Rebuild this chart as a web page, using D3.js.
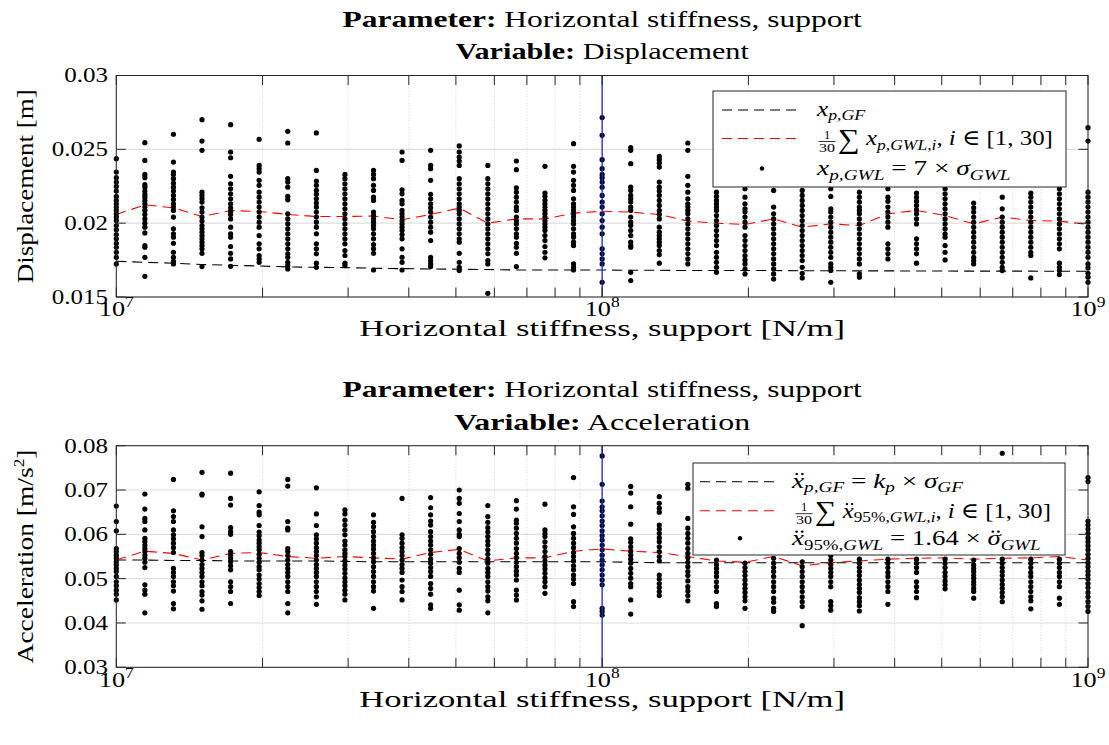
<!DOCTYPE html>
<html>
<head>
<meta charset="utf-8">
<script src="https://cdn.jsdelivr.net/npm/d3@7"></script>
<style>
  html, body { margin: 0; padding: 0; background: #fff; }
  svg { display: block; }
</style>
</head>
<body>
<svg id="fig" width="1109" height="745"></svg>
<script>
// ---------------------------------------------------------------------------
// Parameter sweep: horizontal stiffness of the support [N/m]
// ---------------------------------------------------------------------------
const stiffness = [
  1.000e7, 1.145e7, 1.311e7, 1.501e7, 1.719e7, 1.968e7, 2.254e7, 2.581e7, 2.955e7,
  3.384e7, 3.874e7, 4.436e7, 5.080e7, 5.817e7, 6.660e7, 7.626e7, 8.732e7,
  1.000e8, 1.145e8, 1.311e8, 1.501e8, 1.719e8, 1.968e8, 2.254e8, 2.581e8, 2.955e8,
  3.384e8, 3.874e8, 4.436e8, 5.080e8, 5.817e8, 6.660e8, 7.626e8, 8.732e8, 1.000e9
];
const referenceStiffness = 1e8;

// Displacement x_{p,GWL} for each of the 30 simulations at each stiffness [m]
const dispSamples = [
  [0.02437,0.02346,0.02308,0.02278,0.02249,0.02217,0.02181,0.02154,0.02131,0.02109,0.02086,0.02063,0.02041,0.02018,0.01984,0.01955,0.01923,0.01894,0.01864,0.01837,0.01803,0.01769,0.01724],
  [0.02545,0.02425,0.02330,0.02308,0.02262,0.02244,0.02217,0.02195,0.02176,0.02154,0.02131,0.02109,0.02086,0.02059,0.02029,0.02000,0.01973,0.01934,0.01848,0.01837,0.01769,0.01640],
  [0.02602,0.02414,0.02346,0.02330,0.02301,0.02271,0.02244,0.02217,0.02188,0.02161,0.02131,0.02109,0.02086,0.02041,0.01962,0.01928,0.01905,0.01864,0.01803,0.01769,0.01742,0.01724],
  [0.02701,0.02556,0.02493,0.02210,0.02188,0.02165,0.02143,0.02104,0.02075,0.02041,0.02014,0.01984,0.01962,0.01939,0.01916,0.01894,0.01871,0.01848,0.01826,0.01796,0.01706],
  [0.02667,0.02482,0.02443,0.02317,0.02267,0.02233,0.02199,0.02165,0.02131,0.02104,0.02081,0.02059,0.02029,0.01973,0.01928,0.01905,0.01842,0.01796,0.01758,0.01708],
  [0.02568,0.02391,0.02369,0.02346,0.02290,0.02256,0.02210,0.02176,0.02143,0.02109,0.02075,0.02041,0.02007,0.01973,0.01916,0.01860,0.01826,0.01781,0.01758,0.01735],
  [0.02622,0.02543,0.02301,0.02278,0.02244,0.02181,0.02158,0.02063,0.02029,0.01995,0.01962,0.01928,0.01894,0.01860,0.01826,0.01792,0.01769,0.01735,0.01713,0.01690],
  [0.02611,0.02357,0.02285,0.02256,0.02222,0.02195,0.02165,0.02136,0.02109,0.02075,0.02041,0.02007,0.01973,0.01928,0.01860,0.01826,0.01792,0.01729,0.01701],
  [0.02330,0.02301,0.02267,0.02233,0.02199,0.02165,0.02131,0.02097,0.02063,0.02029,0.01995,0.01962,0.01928,0.01894,0.01860,0.01815,0.01781,0.01729,0.01713],
  [0.02357,0.02330,0.02301,0.02256,0.02222,0.02176,0.02154,0.02075,0.02052,0.02029,0.02007,0.01984,0.01962,0.01928,0.01894,0.01855,0.01826,0.01796,0.01683],
  [0.02482,0.02425,0.02226,0.02199,0.02154,0.02131,0.02086,0.02063,0.02041,0.02018,0.01995,0.01973,0.01950,0.01923,0.01894,0.01826,0.01769,0.01735,0.01683],
  [0.02493,0.02391,0.02369,0.02290,0.02195,0.02165,0.02131,0.02104,0.02075,0.02041,0.02007,0.01973,0.01939,0.01882,0.01769,0.01747,0.01724,0.01706],
  [0.02523,0.02482,0.02448,0.02421,0.02391,0.02301,0.02267,0.02233,0.02199,0.02165,0.02131,0.02109,0.02086,0.02063,0.02029,0.01995,0.01962,0.01928,0.01894,0.01871,0.01796,0.01735,0.01701,0.01679],
  [0.02391,0.02301,0.02267,0.02233,0.02199,0.02165,0.02131,0.02097,0.02063,0.02029,0.01995,0.01962,0.01928,0.01894,0.01860,0.01826,0.01792,0.01747,0.01724,0.01525],
  [0.02421,0.02362,0.02240,0.02210,0.02176,0.02143,0.02109,0.02086,0.02041,0.02018,0.01995,0.01962,0.01928,0.01905,0.01864,0.01837,0.01796,0.01706],
  [0.02385,0.02204,0.02181,0.02154,0.02131,0.02109,0.02086,0.02063,0.02041,0.02018,0.01995,0.01973,0.01950,0.01916,0.01882,0.01842,0.01803,0.01765],
  [0.02538,0.02385,0.02346,0.02290,0.02256,0.02222,0.02165,0.02131,0.02109,0.02086,0.02063,0.02041,0.02018,0.01995,0.01962,0.01928,0.01905,0.01871,0.01848,0.01724,0.01701,0.01683],
  [0.02715,0.02595,0.02430,0.02369,0.02330,0.02308,0.02278,0.02244,0.02188,0.02143,0.02109,0.02063,0.02018,0.01973,0.01928,0.01826,0.01792,0.01758,0.01724,0.01600],
  [0.02511,0.02493,0.02403,0.02244,0.02222,0.02188,0.02165,0.02143,0.02109,0.02086,0.02041,0.02007,0.01984,0.01950,0.01916,0.01871,0.01848,0.01837,0.01667,0.01611],
  [0.02452,0.02430,0.02407,0.02380,0.02278,0.02244,0.02217,0.02188,0.02154,0.02120,0.02086,0.02059,0.02029,0.01973,0.01939,0.01916,0.01894,0.01871,0.01848,0.01815,0.01787,0.01729],
  [0.02543,0.02493,0.02317,0.02256,0.02210,0.02165,0.02131,0.02109,0.02086,0.02063,0.02029,0.01995,0.01962,0.01928,0.01894,0.01860,0.01826,0.01792,0.01758,0.01724],
  [0.02210,0.02181,0.02154,0.02131,0.02109,0.02086,0.02052,0.02018,0.01984,0.01950,0.01916,0.01882,0.01848,0.01803,0.01769,0.01735,0.01701,0.01667],
  [0.02233,0.02176,0.02131,0.02097,0.02075,0.02041,0.02007,0.01973,0.01916,0.01882,0.01848,0.01815,0.01781,0.01751,0.01724,0.01690,0.01656],
  [0.02222,0.02109,0.02063,0.02029,0.01995,0.01962,0.01928,0.01894,0.01860,0.01826,0.01792,0.01758,0.01724,0.01690,0.01656,0.01622],
  [0.02222,0.02188,0.02154,0.02120,0.02086,0.02052,0.02018,0.01984,0.01950,0.01916,0.01882,0.01848,0.01815,0.01781,0.01747,0.01701,0.01660,0.01629],
  [0.02233,0.02181,0.02097,0.02075,0.02041,0.02007,0.01973,0.01939,0.01905,0.01871,0.01837,0.01803,0.01769,0.01724,0.01701,0.01679,0.01600],
  [0.02210,0.02176,0.02143,0.02109,0.02086,0.02063,0.02029,0.01995,0.01962,0.01928,0.01894,0.01860,0.01826,0.01792,0.01758,0.01724,0.01656,0.01634],
  [0.02233,0.02176,0.02149,0.02109,0.02075,0.02041,0.02007,0.01973,0.01860,0.01826,0.01792,0.01758],
  [0.02204,0.02176,0.02149,0.02120,0.02090,0.02063,0.02029,0.01995,0.01894,0.01860,0.01826,0.01792,0.01729],
  [0.02233,0.02199,0.02165,0.02131,0.02097,0.02063,0.02029,0.01995,0.01962,0.01928,0.01905,0.01848,0.01803,0.01751],
  [0.02136,0.02104,0.02075,0.02041,0.02007,0.01973,0.01939,0.01905,0.01871,0.01837,0.01803,0.01769,0.01747,0.01724],
  [0.02176,0.02097,0.02041,0.02007,0.01973,0.01939,0.01905,0.01871,0.01837,0.01803,0.01769,0.01735,0.01701,0.01679],
  [0.02204,0.02176,0.02143,0.02109,0.02075,0.02041,0.02007,0.01973,0.01939,0.01905,0.01871,0.01837,0.01803,0.01781,0.01629],
  [0.02233,0.02199,0.02165,0.02131,0.02097,0.02063,0.02029,0.01995,0.01962,0.01928,0.01894,0.01860,0.01826,0.01729,0.01701,0.01679,0.01652],
  [0.02647,0.02556,0.02210,0.02176,0.02143,0.02109,0.02075,0.02041,0.02007,0.01973,0.01939,0.01905,0.01871,0.01837,0.01803,0.01769,0.01724,0.01697,0.01660,0.01634,0.01600]
];
// Mean of the 30 simulations, (1/30) sum x_{p,GWL,i} [m]
const dispMean = [
  0.02059,0.02124,0.02104,0.02045,0.02086,0.02079,0.02059,0.02045,0.02045,0.02048,0.02023,0.02059,
  0.02102,0.02000,0.02029,0.02029,0.02068,0.02081,0.02075,0.02059,0.02014,0.02000,0.01991,0.02029,
  0.01973,0.01995,0.01984,0.02063,0.02086,0.02052,0.01995,0.02041,0.02018,0.02014,0.01991
];
// Gaussian-field reference x_{p,GF} [m]
const dispGF = [
  0.01742,0.01735,0.01729,0.01720,0.01715,0.01710,0.01704,0.01701,0.01699,0.01695,0.01692,0.01690,
  0.01688,0.01686,0.01683,0.01683,0.01683,0.01683,0.01681,0.01681,0.01679,0.01679,0.01679,0.01679,
  0.01678,0.01678,0.01677,0.01677,0.01676,0.01676,0.01675,0.01675,0.01675,0.01674,0.01674
];

// Acceleration, 95 % peak value per simulation [m/s^2]
const accSamples = [
  [0.0664,0.0629,0.0608,0.0568,0.0561,0.0553,0.0546,0.0538,0.0531,0.0523,0.0516,0.0505,0.0493,0.0484,0.0474,0.0465,0.0452],
  [0.0691,0.0657,0.0636,0.0629,0.0610,0.0591,0.0584,0.0576,0.0568,0.0561,0.0553,0.0546,0.0537,0.0525,0.0486,0.0474,0.0465,0.0423],
  [0.0724,0.0653,0.0640,0.0629,0.0610,0.0599,0.0590,0.0580,0.0570,0.0559,0.0523,0.0514,0.0505,0.0493,0.0484,0.0472,0.0444,0.0432],
  [0.0740,0.0691,0.0689,0.0617,0.0595,0.0559,0.0552,0.0542,0.0532,0.0523,0.0514,0.0505,0.0493,0.0484,0.0471,0.0463,0.0450,0.0431],
  [0.0738,0.0681,0.0666,0.0615,0.0606,0.0600,0.0561,0.0553,0.0546,0.0538,0.0529,0.0520,0.0493,0.0482,0.0471,0.0444],
  [0.0696,0.0665,0.0650,0.0644,0.0620,0.0605,0.0597,0.0587,0.0580,0.0572,0.0565,0.0555,0.0546,0.0537,0.0527,0.0520,0.0508,0.0499,0.0489,0.0480,0.0471,0.0462],
  [0.0724,0.0709,0.0629,0.0614,0.0610,0.0568,0.0561,0.0552,0.0542,0.0532,0.0523,0.0514,0.0505,0.0493,0.0482,0.0471,0.0444,0.0423],
  [0.0705,0.0646,0.0620,0.0599,0.0590,0.0580,0.0570,0.0561,0.0552,0.0542,0.0532,0.0523,0.0514,0.0505,0.0493,0.0482,0.0471,0.0459,0.0442],
  [0.0655,0.0646,0.0632,0.0621,0.0610,0.0599,0.0585,0.0576,0.0565,0.0557,0.0550,0.0540,0.0531,0.0522,0.0512,0.0502,0.0493,0.0484,0.0474,0.0465,0.0452],
  [0.0644,0.0627,0.0617,0.0606,0.0595,0.0585,0.0576,0.0567,0.0557,0.0547,0.0538,0.0527,0.0516,0.0505,0.0493,0.0482,0.0472,0.0433],
  [0.0681,0.0599,0.0591,0.0580,0.0570,0.0561,0.0552,0.0542,0.0532,0.0523,0.0514,0.0497,0.0482,0.0471,0.0452],
  [0.0683,0.0660,0.0644,0.0630,0.0621,0.0606,0.0595,0.0585,0.0576,0.0565,0.0555,0.0544,0.0535,0.0525,0.0516,0.0505,0.0489,0.0478,0.0465,0.0441,0.0433],
  [0.0700,0.0681,0.0670,0.0647,0.0629,0.0610,0.0600,0.0595,0.0568,0.0557,0.0547,0.0537,0.0523,0.0514,0.0474,0.0441,0.0429],
  [0.0665,0.0640,0.0627,0.0615,0.0605,0.0595,0.0585,0.0576,0.0565,0.0555,0.0544,0.0535,0.0523,0.0514,0.0505,0.0493,0.0482,0.0472,0.0459,0.0450,0.0423],
  [0.0676,0.0657,0.0632,0.0625,0.0614,0.0602,0.0591,0.0580,0.0568,0.0557,0.0547,0.0537,0.0527,0.0517,0.0508,0.0497,0.0474,0.0463,0.0452],
  [0.0668,0.0610,0.0602,0.0595,0.0583,0.0572,0.0561,0.0550,0.0540,0.0531,0.0522,0.0512,0.0502,0.0493,0.0482,0.0467],
  [0.0728,0.0662,0.0645,0.0617,0.0602,0.0591,0.0580,0.0570,0.0559,0.0550,0.0540,0.0529,0.0520,0.0508,0.0499,0.0489,0.0448,0.0437],
  [0.0777,0.0713,0.0675,0.0662,0.0653,0.0642,0.0630,0.0620,0.0608,0.0597,0.0587,0.0576,0.0565,0.0553,0.0542,0.0531,0.0520,0.0508,0.0497,0.0486,0.0433,0.0426,0.0418],
  [0.0708,0.0693,0.0662,0.0623,0.0590,0.0582,0.0572,0.0562,0.0553,0.0544,0.0535,0.0523,0.0512,0.0501,0.0489,0.0482,0.0452,0.0420],
  [0.0685,0.0670,0.0659,0.0650,0.0621,0.0612,0.0602,0.0592,0.0583,0.0572,0.0561,0.0550,0.0540,0.0508,0.0499,0.0489,0.0480,0.0471,0.0462],
  [0.0713,0.0704,0.0636,0.0614,0.0602,0.0591,0.0580,0.0568,0.0557,0.0547,0.0537,0.0527,0.0516,0.0507,0.0495,0.0482,0.0472,0.0462,0.0450],
  [0.0542,0.0532,0.0523,0.0514,0.0505,0.0493,0.0482,0.0471,0.0444,0.0437],
  [0.0535,0.0525,0.0516,0.0507,0.0497,0.0487,0.0478,0.0469,0.0459,0.0450,0.0433],
  [0.0546,0.0535,0.0525,0.0516,0.0505,0.0493,0.0482,0.0471,0.0456,0.0447,0.0433,0.0426],
  [0.0538,0.0527,0.0516,0.0505,0.0493,0.0482,0.0471,0.0459,0.0448,0.0437,0.0394],
  [0.0552,0.0542,0.0532,0.0523,0.0514,0.0505,0.0493,0.0482,0.0448,0.0439,0.0429],
  [0.0544,0.0535,0.0525,0.0516,0.0507,0.0497,0.0487,0.0478,0.0469,0.0457,0.0448,0.0439,0.0427],
  [0.0544,0.0535,0.0525,0.0514,0.0505,0.0493,0.0482,0.0471,0.0442],
  [0.0544,0.0535,0.0525,0.0514,0.0493,0.0482,0.0471,0.0457],
  [0.0544,0.0535,0.0525,0.0514,0.0505,0.0495,0.0486,0.0477],
  [0.0542,0.0531,0.0523,0.0516,0.0508,0.0501,0.0493,0.0486,0.0478,0.0471,0.0456],
  [0.0783,0.0544,0.0535,0.0525,0.0516,0.0507,0.0497,0.0487,0.0478,0.0469,0.0459,0.0448],
  [0.0544,0.0535,0.0525,0.0514,0.0505,0.0493,0.0482,0.0471,0.0459,0.0450,0.0432],
  [0.0544,0.0535,0.0525,0.0514,0.0505,0.0493,0.0482,0.0456,0.0442],
  [0.0728,0.0719,0.0630,0.0621,0.0612,0.0602,0.0592,0.0583,0.0574,0.0565,0.0555,0.0546,0.0536,0.0527,0.0517,0.0508,0.0499,0.0489,0.0480,0.0469,0.0459,0.0448,0.0437,0.0426]
];
const accMean = [
  0.0542,0.0562,0.0557,0.0542,0.0557,0.0559,0.0550,0.0546,0.0550,0.0547,0.0544,0.0559,
  0.0566,0.0540,0.0547,0.0547,0.0562,0.0567,0.0562,0.0559,0.0550,0.0540,0.0537,0.0550,
  0.0529,0.0536,0.0540,0.0544,0.0546,0.0547,0.0544,0.0546,0.0547,0.0550,0.0542
];
const accGF = [
  0.0542,0.0542,0.0541,0.0541,0.0540,0.0540,0.0540,0.0540,0.0539,0.0538,0.0538,0.0538,
  0.0538,0.0538,0.0538,0.0538,0.0538,0.0538,0.0537,0.0536,0.0536,0.0536,0.0536,0.0536,
  0.0536,0.0536,0.0536,0.0536,0.0536,0.0536,0.0536,0.0536,0.0536,0.0536,0.0536
];

// Axis ticks
const xDecades = [7, 8, 9];
const minorMultipliers = [2, 3, 4, 5, 6, 7, 8, 9];
const dispTicks = [0.015, 0.02, 0.025, 0.03];
const dispTickLabels = ["0.015", "0.02", "0.025", "0.03"];
const accTicks = [0.03, 0.04, 0.05, 0.06, 0.07, 0.08];
const accTickLabels = ["0.03", "0.04", "0.05", "0.06", "0.07", "0.08"];

// ---------------------------------------------------------------------------
const FONT = "'Liberation Serif', 'DejaVu Serif', serif";
const AXIS_COLOR = "#262626";
const LABEL_SIZE = 24;
const svg = d3.select("#fig");

// Writes a run of styled pieces (italic, sub/superscripts, sizes) inside a group.
// Pieces flagged with `dd` receive a double-dot accent (time derivative).
function richText(parent, x, y, parts, opts = {}) {
  const grp = parent.append("g");
  const size = opts.size || 22;
  const t = grp.append("text")
    .attr("x", x).attr("y", y)
    .attr("font-family", FONT)
    .attr("font-size", size)
    .attr("fill", "#000")
    .attr("text-anchor", opts.anchor || "start");
  let shift = 0;
  const accents = [];
  parts.forEach(p => {
    const ts = t.append("tspan").text(p.t);
    const s = p.s || 0;
    if (s !== shift) ts.attr("dy", s - shift);
    shift = s;
    if (p.i) ts.attr("font-style", "italic");
    if (p.b) ts.attr("font-weight", "bold");
    if (p.fs) ts.attr("font-size", p.fs);
    if (p.dx) ts.attr("dx", p.dx);
    if (p.dd) accents.push({ ts, base: y + s, fs: p.fs || size });
  });
  accents.forEach(a => {
    const r = a.ts.node().getExtentOfChar(0);
    const cx = r.x + r.width / 2 + 1.2;
    const cy = a.base - 0.62 * a.fs;
    [-2.3, 2.3].forEach(o => grp.append("circle")
      .attr("cx", cx + o).attr("cy", cy).attr("r", 1.15).attr("fill", "#000"));
  });
  return grp;
}

// Widens a text group horizontally about its anchor so it spans the given width
function fitWidth(grp, width, ax) {
  const w = grp.node().getBBox().width;
  if (!w) return grp;
  const sx = width / w;
  grp.attr("transform", `translate(${ax},0) scale(${sx},1) translate(${-ax},0)`);
  return grp;
}
function scaleWidth(sel, sx, ax) {
  sel.attr("transform", `translate(${ax},0) scale(${sx},1) translate(${-ax},0)`);
  return sel;
}

// Small stacked 1/30 fraction
function fraction(parent, cx, yNum, yBar, yDen, halfWidth) {
  parent.append("text").attr("x", cx).attr("y", yNum)
    .attr("font-family", FONT).attr("font-size", 12.5).attr("text-anchor", "middle").text("1");
  parent.append("line").attr("x1", cx - halfWidth).attr("x2", cx + halfWidth)
    .attr("y1", yBar).attr("y2", yBar).attr("stroke", "#000").attr("stroke-width", 0.8);
  const d = parent.append("text").attr("x", cx).attr("y", yDen)
    .attr("font-family", FONT).attr("font-size", 12.5).attr("text-anchor", "middle").text("30");
  fitWidth(d, halfWidth * 2 - 1, cx);
}

const X_LEFT = 116.3, X_RIGHT = 1088;
const X_MID = (X_LEFT + X_RIGHT) / 2;

function drawPanel(cfg) {
  const x = d3.scaleLog().domain([1e7, 1e9]).range([X_LEFT, X_RIGHT]);
  const y = d3.scaleLinear().domain(cfg.yDomain).range([cfg.bottom, cfg.top]);
  const g = svg.append("g");
  const clipId = "clip-" + cfg.id;
  g.append("clipPath").attr("id", clipId).append("rect")
    .attr("x", X_LEFT).attr("y", cfg.top)
    .attr("width", X_RIGHT - X_LEFT).attr("height", cfg.bottom - cfg.top);

  // Minor (dotted) vertical grid
  const minorX = [];
  xDecades.slice(0, -1).forEach(e => minorMultipliers.forEach(m => minorX.push(m * Math.pow(10, e))));
  g.append("g").selectAll("line").data(minorX).join("line")
    .attr("x1", d => x(d)).attr("x2", d => x(d))
    .attr("y1", cfg.top).attr("y2", cfg.bottom)
    .attr("stroke", "#c8c8c8").attr("stroke-width", 0.8).attr("stroke-dasharray", "1,2");
  // Major grid
  g.append("g").selectAll("line").data(xDecades.map(e => Math.pow(10, e))).join("line")
    .attr("x1", d => x(d)).attr("x2", d => x(d))
    .attr("y1", cfg.top).attr("y2", cfg.bottom)
    .attr("stroke", "#dedede").attr("stroke-width", 1);
  g.append("g").selectAll("line").data(cfg.yTicks).join("line")
    .attr("x1", X_LEFT).attr("x2", X_RIGHT)
    .attr("y1", d => y(d)).attr("y2", d => y(d))
    .attr("stroke", "#dedede").attr("stroke-width", 1.2);

  // Reference (GF) dashed line and mean dashed line
  const line = d3.line().x((d, i) => x(stiffness[i])).y(d => y(d));
  const lines = g.append("g").attr("clip-path", `url(#${clipId})`);
  lines.append("path").datum(cfg.gf).attr("d", line)
    .attr("fill", "none").attr("stroke", "#000").attr("stroke-width", 1.1)
    .attr("stroke-dasharray", "10,6");
  lines.append("path").datum(cfg.mean).attr("d", line)
    .attr("fill", "none").attr("stroke", "#ff0000").attr("stroke-width", 1.1)
    .attr("stroke-dasharray", "10,6");

  // Scatter of the individual simulations
  const pts = [];
  cfg.samples.forEach((col, i) => col.forEach(v => pts.push([stiffness[i], v])));
  g.append("g").selectAll("circle").data(pts).join("circle")
    .attr("cx", d => x(d[0])).attr("cy", d => y(d[1])).attr("r", 2.6).attr("fill", "#000");

  // Reference stiffness marker
  g.append("line")
    .attr("x1", x(referenceStiffness)).attr("x2", x(referenceStiffness))
    .attr("y1", cfg.top).attr("y2", cfg.bottom)
    .attr("stroke", "#2020ff").attr("stroke-width", 1.3);

  // Axis box and inward ticks
  const TL = 9.5;
  const box = g.append("g").attr("stroke", AXIS_COLOR).attr("stroke-width", 1);
  box.append("rect").attr("x", X_LEFT).attr("y", cfg.top)
    .attr("width", X_RIGHT - X_LEFT).attr("height", cfg.bottom - cfg.top).attr("fill", "none");
  const allX = minorX.concat(xDecades.map(e => Math.pow(10, e)));
  allX.forEach(v => {
    box.append("line").attr("x1", x(v)).attr("x2", x(v)).attr("y1", cfg.bottom).attr("y2", cfg.bottom - TL);
    box.append("line").attr("x1", x(v)).attr("x2", x(v)).attr("y1", cfg.top).attr("y2", cfg.top + TL);
  });
  cfg.yTicks.forEach(v => {
    box.append("line").attr("x1", X_LEFT).attr("x2", X_LEFT + TL).attr("y1", y(v)).attr("y2", y(v));
    box.append("line").attr("x1", X_RIGHT).attr("x2", X_RIGHT - TL).attr("y1", y(v)).attr("y2", y(v));
  });

  // Tick labels
  cfg.yTicks.forEach((v, i) => {
    const t = g.append("text").attr("x", 108).attr("y", y(v) + 7)
      .attr("font-family", FONT).attr("font-size", 20.5).attr("text-anchor", "end")
      .attr("fill", "#000").text(cfg.yTickLabels[i]);
    scaleWidth(t, 1.22, 108);
  });
  xDecades.forEach(e => {
    const t = richText(g, x(Math.pow(10, e)), cfg.bottom + 19.5,
      [{ t: "10" }, { t: String(e), fs: 14, s: -9 }], { anchor: "middle", size: 21 });
    fitWidth(t, 35, x(Math.pow(10, e)));
  });

  // Axis labels and titles
  fitWidth(richText(g, X_MID, cfg.bottom + 39.5,
    [{ t: "Horizontal stiffness, support [N/m]" }], { anchor: "middle", size: LABEL_SIZE }), 486, X_MID);
  const yl = g.append("g").attr("transform", `translate(33,${(cfg.top + cfg.bottom) / 2}) rotate(-90)`);
  fitWidth(richText(yl, 0, 0, cfg.ylabel, { anchor: "middle", size: LABEL_SIZE }), cfg.ylabelLen, 0);
  fitWidth(richText(g, X_MID, cfg.top - 48.5,
    [{ t: "Parameter:", b: 1 }, { t: " Horizontal stiffness, support" }],
    { anchor: "middle", size: LABEL_SIZE }), 520, X_MID);
  fitWidth(richText(g, X_MID, cfg.top - 16,
    [{ t: "Variable:", b: 1 }, { t: " " + cfg.variable }],
    { anchor: "middle", size: LABEL_SIZE }), cfg.variableLen, X_MID);

  // Legend
  const L = cfg.legend;
  const lg = g.append("g");
  lg.append("rect").attr("x", L.x0).attr("y", L.y0)
    .attr("width", L.x1 - L.x0).attr("height", L.y1 - L.y0)
    .attr("fill", "#fff").attr("stroke", AXIS_COLOR).attr("stroke-width", 1);
  lg.append("line").attr("x1", L.lx0).attr("x2", L.lx1).attr("y1", L.rows[0]).attr("y2", L.rows[0])
    .attr("stroke", "#000").attr("stroke-width", 1.1).attr("stroke-dasharray", "10,6");
  lg.append("line").attr("x1", L.lx0).attr("x2", L.lx1).attr("y1", L.rows[1]).attr("y2", L.rows[1])
    .attr("stroke", "#ff0000").attr("stroke-width", 1.1).attr("stroke-dasharray", "10,6");
  lg.append("circle").attr("cx", (L.lx0 + L.lx1) / 2).attr("cy", L.rows[2]).attr("r", 2.2).attr("fill", "#000");
  fitWidth(richText(lg, L.tx, L.rows[0] + 6, L.entries[0]), L.widths[0], L.tx);
  fraction(lg, L.fx, L.rows[1] + 0.5, L.rows[1] + 3, L.rows[1] + 13.5, 8.5);
  fitWidth(richText(lg, L.fx + 11, L.rows[1] + 7, L.entries[1]), L.widths[1], L.fx + 11);
  fitWidth(richText(lg, L.tx, L.rows[2] + 7, L.entries[2]), L.widths[2], L.tx);
}

const SUB = 15.5, SH = 4.5;
drawPanel({
  id: "disp", top: 75.5, bottom: 297, yDomain: [0.015, 0.03],
  yTicks: dispTicks, yTickLabels: dispTickLabels,
  samples: dispSamples, mean: dispMean, gf: dispGF,
  variable: "Displacement", variableLen: 294,
  ylabel: [{ t: "Displacement [m]" }], ylabelLen: 194,
  legend: {
    x0: 713, x1: 1066, y0: 91, y1: 187, lx0: 722, lx1: 802, tx: 817, fx: 827,
    rows: [110, 138.5, 168.5], widths: [50, 215, 195],
    entries: [
      [{ t: "x", i: 1 }, { t: "p,GF", i: 1, fs: SUB, s: SH }],
      [{ t: "∑", fs: 27, s: 2.5 }, { t: " " }, { t: "x", i: 1 }, { t: "p,GWL,i", i: 1, fs: SUB, s: SH },
       { t: ", " }, { t: "i", i: 1 }, { t: " ∈ [1, 30]" }],
      [{ t: "x", i: 1 }, { t: "p,GWL", i: 1, fs: SUB, s: SH }, { t: " = 7 × " },
       { t: "σ", i: 1 }, { t: "GWL", i: 1, fs: SUB, s: SH }]
    ]
  }
});
drawPanel({
  id: "acc", top: 445.7, bottom: 667.3, yDomain: [0.03, 0.08],
  yTicks: accTicks, yTickLabels: accTickLabels,
  samples: accSamples, mean: accMean, gf: accGF,
  variable: "Acceleration", variableLen: 296,
  ylabel: [{ t: "Acceleration [m/s" }, { t: "2", fs: 15, s: -9 }, { t: "]", s: 0 }], ylabelLen: 214,
  legend: {
    x0: 693, x1: 1065, y0: 463, y1: 555, lx0: 700, lx1: 780, tx: 792, fx: 804,
    rows: [481.7, 510.7, 538.3], widths: [173, 236, 250],
    entries: [
      [{ t: "x", i: 1, dd: 1 }, { t: "p,GF", i: 1, fs: SUB, s: SH }, { t: " = " }, { t: "k", i: 1 },
       { t: "p", i: 1, fs: SUB, s: SH }, { t: " × " }, { t: "σ", i: 1 }, { t: "GF", i: 1, fs: SUB, s: SH }],
      [{ t: "∑", fs: 27, s: 2.5 }, { t: " " }, { t: "x", i: 1, dd: 1 }, { t: "95%,", fs: SUB, s: SH },
       { t: "GWL,i", i: 1, fs: SUB, s: SH }, { t: ", " }, { t: "i", i: 1 }, { t: " ∈ [1, 30]" }],
      [{ t: "x", i: 1, dd: 1 }, { t: "95%,", fs: SUB, s: SH }, { t: "GWL", i: 1, fs: SUB, s: SH },
       { t: " = 1.64 × " }, { t: "σ", i: 1, dd: 1 }, { t: "GWL", i: 1, fs: SUB, s: SH }]
    ]
  }
});
</script>
</body>
</html>
